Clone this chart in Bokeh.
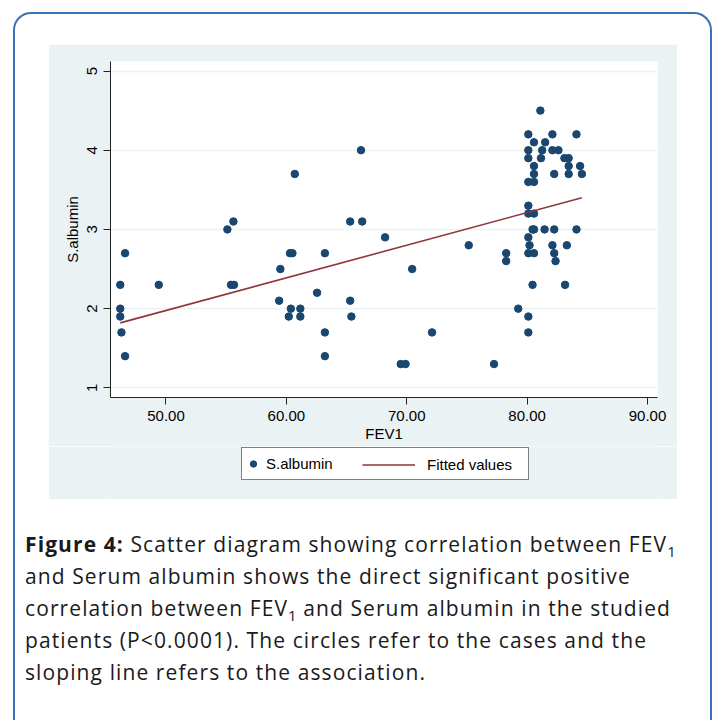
from bokeh.plotting import figure
from bokeh.models import (ColumnDataSource, FixedTicker, NumeralTickFormatter, Legend,
                          LegendItem, Range1d, Div)
from bokeh.layouts import column
from bokeh.embed import file_html
from bokeh.resources import INLINE

# ---- data ----
fev1 = [46.6, 46.2, 49.4, 46.2, 46.2, 46.3, 46.6, 55.1, 55.6, 55.4, 55.65,
        59.5, 59.4, 60.3, 60.5, 60.37, 61.16, 60.2, 61.16, 60.7, 66.2, 65.3,
        66.3, 68.2, 63.2, 70.45, 62.55, 65.3, 65.4, 63.2, 72.1, 63.2, 69.5,
        69.9, 77.25, 75.15,
        81.1, 80.1, 82.1, 84.1, 80.57, 81.5, 80.1, 81.25, 82.1, 82.6,
        80.1, 81.15, 83.1, 83.45, 80.57, 83.45, 84.4, 80.57, 82.25, 83.45,
        84.55, 80.1, 80.57, 80.1, 80.1, 80.57, 80.45, 80.57, 81.45, 82.25,
        84.1, 80.1, 80.2, 82.1, 83.3, 78.26, 78.26, 80.1, 80.57, 82.25,
        82.36, 80.45, 83.15, 79.26, 80.1, 80.1]
albumin = [2.7, 2.3, 2.3, 2.0, 1.9, 1.7, 1.4, 3.0, 3.1, 2.3, 2.3,
           2.5, 2.1, 2.7, 2.7, 2.0, 2.0, 1.9, 1.9, 3.7, 4.0, 3.1,
           3.1, 2.9, 2.7, 2.5, 2.2, 2.1, 1.9, 1.7, 1.7, 1.4, 1.3,
           1.3, 1.3, 2.8,
           4.5, 4.2, 4.2, 4.2, 4.1, 4.1, 4.0, 4.0, 4.0, 4.0,
           3.9, 3.9, 3.9, 3.9, 3.8, 3.8, 3.8, 3.7, 3.7, 3.7,
           3.7, 3.6, 3.6, 3.3, 3.2, 3.2, 3.0, 3.0, 3.0, 3.0,
           3.0, 2.9, 2.8, 2.8, 2.8, 2.7, 2.6, 2.7, 2.7, 2.7,
           2.6, 2.3, 2.3, 2.0, 1.9, 1.7]
fit_x = [46.2, 84.55]
fit_y = [1.82, 3.40]
x_ticks = [50, 60, 70, 80, 90]
y_ticks = [1, 2, 3, 4, 5]
series_names = ["S.albumin", "Fitted values"]

NAVY = "#1a476f"
MAROON = "#90353b"
PANEL = "#eaf2f3"
FONT = "Liberation Sans"

src = ColumnDataSource(dict(x=fev1, y=albumin))
fit = ColumnDataSource(dict(x=fit_x, y=fit_y))

# ---------------- main scatter plot ----------------
p = figure(width=629, height=402, output_backend="svg", toolbar_location=None,
           x_range=Range1d(45.39, 90.83), y_range=Range1d(0.878, 5.12),
           min_border_left=62, min_border_right=20, min_border_top=17,
           min_border_bottom=49,
           background_fill_color="white", border_fill_color=PANEL,
           outline_line_color=None)

p.xgrid.visible = False
p.ygrid.ticker = FixedTicker(ticks=y_ticks)
p.ygrid.grid_line_color = PANEL
p.ygrid.grid_line_width = 1.6

for ax in (p.xaxis[0], p.yaxis[0]):
    ax.axis_line_color = "#222222"
    ax.major_tick_line_color = "#222222"
    ax.major_tick_out = 7
    ax.major_tick_in = 0
    ax.minor_tick_out = 0
    ax.minor_tick_in = 0
    ax.major_label_text_font = FONT
    ax.major_label_text_font_size = "15px"
    ax.major_label_text_color = "black"
    ax.axis_label_text_font = FONT
    ax.axis_label_text_font_size = "15px"
    ax.axis_label_text_font_style = "normal"
    ax.axis_label_text_color = "black"

p.xaxis.ticker = FixedTicker(ticks=x_ticks)
p.xaxis.formatter = NumeralTickFormatter(format="0.00")
p.xaxis.axis_label = "FEV1"
p.xaxis.major_label_standoff = 6
p.xaxis.axis_label_standoff = 1

p.yaxis.ticker = FixedTicker(ticks=y_ticks)
p.yaxis.major_label_orientation = "vertical"
p.yaxis.axis_label = "S.albumin"
p.yaxis.major_label_standoff = 6
p.yaxis.axis_label_standoff = 4

p.scatter("x", "y", source=src, size=7.5, fill_color=NAVY, line_color=NAVY)
p.line("x", "y", source=fit, line_color=MAROON, line_width=1.6)
p.margin = (30, 0, 0, 33)

# ---------------- legend strip (same grey panel) ----------------
# frame spans the same columns as the main frame; the data lie outside its
# ranges, so only the legend samples show
lg = figure(width=629, height=53, output_backend="svg", toolbar_location=None,
            x_axis_type=None, y_axis_type=None,
            x_range=Range1d(0, 1), y_range=Range1d(0, 1),
            min_border_left=62, min_border_right=20,
            min_border_top=0, min_border_bottom=0,
            background_fill_color=PANEL, border_fill_color=PANEL,
            outline_line_color=None)
k_sc = lg.scatter("x", "y", source=src, size=7.5, fill_color=NAVY, line_color=NAVY)
k_ln = lg.line("x", "y", source=fit, line_color=MAROON, line_width=1.6)

leg1 = Legend(items=[LegendItem(label=series_names[0], renderers=[k_sc])],
              location=(131, 19), orientation="horizontal",
              glyph_width=16, glyph_height=25, label_height=25, label_width=259,
              label_standoff=5, padding=3, margin=0, spacing=0,
              border_line_color="black", border_line_width=1,
              background_fill_color="white", background_fill_alpha=1,
              label_text_font=FONT, label_text_font_size="15px",
              label_text_color="black")
leg2 = Legend(items=[LegendItem(label=series_names[1], renderers=[k_ln])],
              location=(249, 19), orientation="horizontal",
              glyph_width=53, glyph_height=25, label_height=25, label_width=97,
              label_standoff=12, padding=3, margin=0, spacing=0,
              border_line_color="black", border_line_alpha=0,
              background_fill_alpha=0,
              label_text_font=FONT, label_text_font_size="15px",
              label_text_color="black")
lg.add_layout(leg1, "center")
lg.add_layout(leg2, "center")
lg.margin = (0, 0, 0, 33)

# ---------------- caption ----------------
sub = '<span style="font-size:15px;vertical-align:-5px;line-height:0;letter-spacing:0">1</span>'
caption_html = (
    "<b>Figure 4:</b> Scatter diagram showing correlation between FEV" + sub + "<br>"
    "and Serum albumin shows the direct significant positive<br>"
    "correlation between FEV" + sub + " and Serum albumin in the studied<br>"
    "patients (P&lt;0.0001). The circles refer to the cases and the<br>"
    "sloping line refers to the association."
)
cap = Div(text=caption_html, width=685, margin=(29, 0, 0, 10),
          styles={"font-family": "Open Sans", "font-size": "21px",
                  "line-height": "32px", "color": "#1a1a1a",
                  "letter-spacing": "1.1px", "white-space": "nowrap"})

root = column(p, lg, cap, width=699, height=712, margin=(12, 0, -20, 13),
              styles={"border": "2px solid #3b73b9", "border-bottom": "none",
                      "border-radius": "18px 18px 0 0",
                      "background-color": "white"})

open("out.html", "w").write(file_html(root, INLINE))
